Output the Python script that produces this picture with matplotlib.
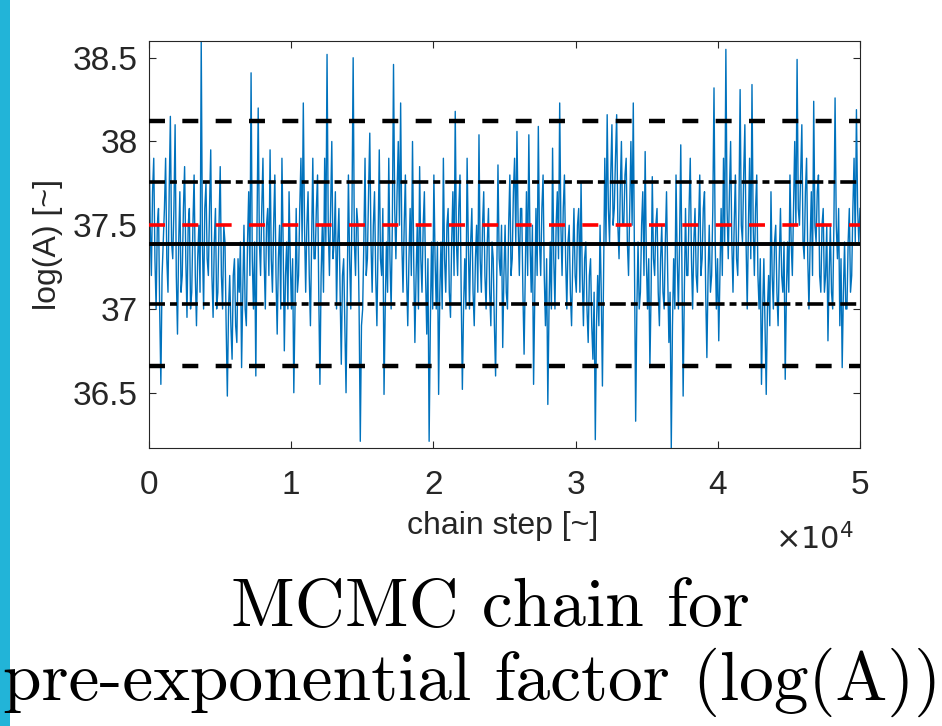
import numpy as np
import matplotlib
matplotlib.use("Agg")
import matplotlib.pyplot as plt
from matplotlib.patches import Rectangle

# ---------------- data ----------------
n_steps = 50000
chain_logA = [
    38.10, 37.5, 37.2, 37.7, 37.9, 37.3, 37.0, 37.5, 37.6, 37.0, 36.55, 37.2, 37.4, 37.6, 37.9, 37.3, 37.1, 37.7, 38.15, 37.4,
    37.3, 37.6, 38.1, 37.2, 36.85, 37.4, 37.7, 37.1, 37.2, 37.6, 37.85, 37.3, 36.95, 37.5, 37.6, 37.0, 37.1, 37.5, 37.8, 37.2,
    36.9, 37.3, 37.5, 37.1, 38.6, 37.4, 37.0, 37.6, 37.75, 37.3, 37.2, 37.6, 37.95, 37.2, 36.95, 37.4, 37.6, 37.0, 37.1, 37.5,
    37.85, 37.2, 37.0, 37.5, 37.4, 36.9, 36.48, 37.0, 37.2, 36.9, 36.7, 37.2, 37.3, 36.9, 36.8, 37.3, 37.1, 37.4, 36.65, 37.1,
    37.5, 37.0, 36.9, 37.4, 37.7, 37.2, 38.41, 37.3, 37.0, 37.4, 36.6, 37.5, 38.2, 37.4, 37.2, 37.6, 37.9, 37.3, 37.0, 37.5,
    37.6, 37.2, 37.95, 37.3, 37.1, 37.5, 37.8, 37.2, 36.85, 37.3, 37.5, 37.0, 37.9, 37.4, 36.75, 37.2, 37.4, 37.0, 37.7, 37.3,
    37.0, 37.3, 36.5, 37.0, 37.6, 37.1, 37.2, 37.6, 37.9, 37.4, 38.23, 37.5, 37.1, 37.5, 37.7, 37.2, 36.9, 37.4, 37.9, 37.3,
    37.3, 37.6, 37.8, 37.1, 36.55, 37.2, 37.5, 37.1, 37.9, 37.4, 38.52, 37.5, 37.2, 37.6, 38.0, 37.3, 37.4, 37.7, 37.0, 37.4,
    37.6, 37.1, 36.67, 37.2, 37.3, 36.9, 36.5, 37.1, 37.8, 37.3, 37.0, 37.6, 38.5, 37.4, 37.2, 37.6, 37.5, 37.0, 36.21, 36.9,
    37.0, 37.4, 37.9, 37.2, 37.3, 37.7, 38.05, 37.4, 37.1, 37.5, 37.7, 37.2, 36.9, 37.4, 37.95, 37.3, 37.2, 37.6, 36.49, 37.0,
    37.4, 37.1, 37.9, 37.3, 37.0, 37.5, 38.46, 37.6, 37.3, 37.7, 38.0, 37.5, 38.23, 37.4, 37.1, 37.5, 37.8, 37.2, 36.9, 37.3,
    37.6, 37.2, 38.0, 37.3, 36.8, 37.2, 37.5, 37.0, 37.85, 37.3, 37.1, 37.5, 37.7, 37.2, 36.85, 37.3, 36.21, 36.9, 37.4, 37.0,
    37.8, 37.3, 37.0, 37.4, 36.49, 37.1, 37.4, 37.0, 37.9, 37.3, 37.1, 37.5, 37.6, 37.1, 36.95, 37.4, 37.7, 37.2, 38.18, 37.4,
    37.2, 37.6, 37.8, 37.1, 36.52, 37.0, 37.3, 37.0, 37.9, 37.4, 37.0, 37.4, 37.6, 37.1, 36.9, 37.3, 37.5, 37.1, 38.04, 37.3,
    37.1, 37.5, 37.7, 37.2, 37.0, 37.4, 37.6, 37.1, 36.9, 37.4, 37.3, 36.9, 36.6, 37.2, 37.86, 37.3, 37.2, 37.5, 36.77, 37.2,
    37.5, 37.1, 37.0, 37.5, 37.8, 37.2, 37.3, 37.7, 37.9, 37.4, 38.06, 37.5, 37.2, 37.6, 37.6, 37.1, 36.73, 37.2, 37.7, 37.2,
    38.04, 37.4, 37.1, 37.5, 36.55, 37.1, 37.6, 37.2, 38.09, 37.4, 37.2, 37.6, 37.8, 37.2, 36.9, 37.3, 36.43, 37.0, 37.4, 37.0,
    37.96, 37.3, 37.0, 37.5, 37.7, 37.3, 38.23, 37.5, 37.2, 37.6, 37.8, 37.3, 37.0, 37.4, 37.5, 37.1, 36.9, 37.3, 37.6, 37.2,
    37.1, 37.5, 37.6, 37.1, 37.76, 37.2, 36.9, 37.3, 37.4, 37.0, 36.8, 37.2, 37.3, 36.9, 36.7, 37.1, 36.22, 36.9, 37.2, 36.9,
    37.5, 37.1, 36.54, 37.2, 37.9, 37.4, 38.16, 37.6, 37.4, 37.8, 38.1, 37.5, 37.6, 37.9, 38.16, 37.5, 37.3, 37.7, 38.0, 37.5,
    37.5, 37.8, 37.9, 37.4, 37.2, 37.6, 38.0, 37.5, 38.23, 37.3, 36.33, 37.0, 37.4, 37.0, 37.1, 37.5, 37.7, 37.2, 37.94, 37.3,
    37.0, 37.3, 36.65, 37.1, 37.79, 37.3, 37.2, 37.5, 37.6, 37.1, 36.9, 37.3, 37.5, 37.1, 37.0, 37.4, 37.7, 37.2, 36.8, 37.1,
    36.17, 36.9, 37.3, 37.0, 37.8, 37.3, 37.0, 37.4, 37.98, 37.2, 36.48, 37.1, 37.6, 37.2, 37.2, 37.6, 37.9, 37.3, 37.0, 37.4,
    37.6, 37.2, 37.1, 37.5, 37.8, 37.2, 37.3, 37.6, 37.7, 37.1, 36.71, 37.2, 37.5, 37.1, 37.2, 37.6, 38.32, 37.4, 37.0, 37.3,
    36.81, 37.2, 37.6, 37.2, 37.9, 37.4, 38.55, 37.6, 37.3, 37.7, 38.0, 37.4, 37.1, 37.5, 37.8, 37.3, 37.2, 37.6, 38.31, 37.5,
    37.4, 37.8, 38.1, 37.4, 37.0, 37.5, 37.9, 37.3, 38.34, 37.5, 37.2, 37.6, 37.8, 37.2, 37.0, 37.3, 36.55, 37.0, 37.3, 36.9,
    36.49, 37.0, 37.2, 36.9, 37.7, 37.2, 37.0, 37.4, 37.5, 37.1, 36.9, 37.3, 37.6, 37.2, 37.1, 37.4, 36.58, 37.1, 37.4, 37.1,
    37.8, 37.4, 37.2, 37.6, 38.0, 37.5, 38.49, 37.6, 37.5, 37.8, 38.1, 37.4, 37.3, 37.7, 37.9, 37.3, 37.0, 37.4, 37.7, 37.2,
    38.24, 37.5, 37.4, 37.7, 37.8, 37.2, 37.1, 37.5, 37.6, 37.1, 37.2, 37.5, 36.81, 37.2, 37.5, 37.1, 37.0, 37.5, 38.26, 37.5,
    37.3, 37.6, 36.9, 37.3, 36.65, 37.1, 37.4, 37.0, 37.0, 37.4, 37.6, 37.1, 37.2, 37.6, 37.9, 37.4, 38.19, 37.6, 37.4, 37.6,
]
chain_mean = 37.39
chain_std1 = [37.03, 37.76]      # mean -/+ 1 sd (dash-dot)
chain_std2 = [36.66, 38.125]     # mean -/+ 2 sd (dashed)
true_value = 37.5                # red dashed

x_ticks = [0, 10000, 20000, 30000, 40000, 50000]
x_tick_labels = ["0", "1", "2", "3", "4", "5"]
y_ticks = [36.5, 37.0, 37.5, 38.0, 38.5]
y_tick_labels = ["36.5", "37", "37.5", "38", "38.5"]

# ---------------- figure ----------------
plt.rcParams['lines.scale_dashes'] = False
plt.rcParams['font.family'] = ['Liberation Sans', 'DejaVu Sans']

W, H = 942, 726
fig = plt.figure(figsize=(W / 100, H / 100), dpi=100)
fig.patches.append(Rectangle((0, 0), 10 / W, 1, transform=fig.transFigure,
                             facecolor='#22b4d8', edgecolor='none'))

ax = fig.add_axes([149 / W, 1 - 448 / H, (860 - 149) / W, (448 - 41) / H])

steps = np.linspace(0, n_steps, len(chain_logA))
ax.plot(steps, chain_logA, color='#0072BD', lw=1.0, zorder=2)

ax.axhline(chain_std2[1], color='black', lw=3.2, dashes=(11.5, 12.5), zorder=3)
ax.axhline(chain_std2[0], color='black', lw=3.2, dashes=(11.5, 12.5), zorder=3)
ax.axhline(chain_std1[1], color='black', lw=2.6, dashes=(11.5, 3.6, 5, 3.6), zorder=3)
ax.axhline(chain_std1[0], color='black', lw=2.6, dashes=(11.5, 3.6, 5, 3.6), zorder=3)
ax.axhline(true_value, color='#ff0000', lw=2.6, dashes=(11.5, 12.5), zorder=3)
ax.axhline(chain_mean, color='black', lw=2.8, zorder=3)

ax.set_xlim(0, n_steps)
ax.set_ylim(36.17, 38.6)
ax.set_xticks(x_ticks)
ax.set_xticklabels(x_tick_labels)
ax.set_yticks(y_ticks)
ax.set_yticklabels(y_tick_labels)

edge = '#262626'
for s in ax.spines.values():
    s.set_color(edge)
    s.set_linewidth(0.8)
ax.tick_params(direction='in', length=5, width=0.8, colors=edge,
               top=True, right=True, labelsize=24, labelcolor='#262626')
ax.tick_params(axis='x', pad=16)
ax.tick_params(axis='y', pad=8)

ax.set_ylabel('log(A) [~]', fontsize=23, color='#262626', labelpad=7)

fig.text(503 / W, 1 - 526 / H, 'chain step [~]', fontsize=23, color='#262626',
         ha='center', va='center')
fig.text(815 / W, 1 - 540 / H, r'$\times10^{4}$', fontsize=22, color='#262626',
         ha='center', va='center')

fig.text(490 / W, 1 - 608 / H, 'MCMC chain for', family='cmr10', fontsize=50,
         ha='center', va='center', color='black')
fig.text(472 / W, 1 - 682 / H, 'pre-exponential factor (log(A))', family='cmr10',
         fontsize=50, ha='center', va='center', color='black')

fig.savefig('out.png', dpi=100)
